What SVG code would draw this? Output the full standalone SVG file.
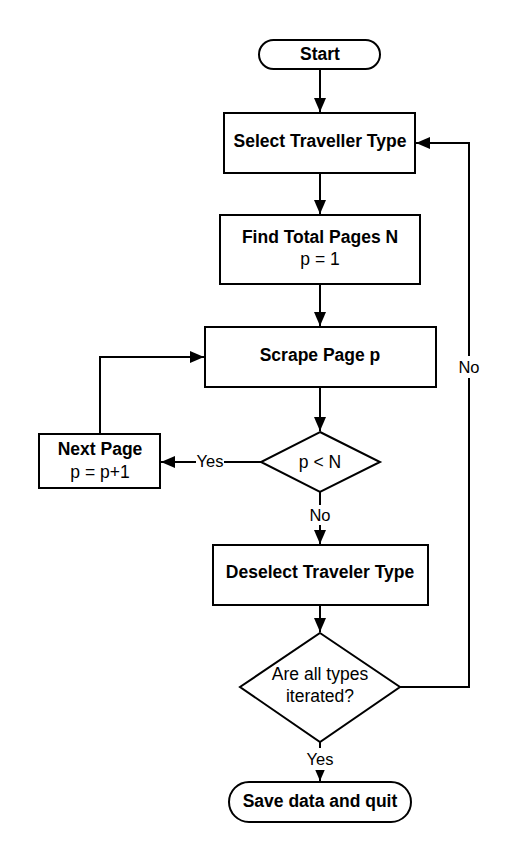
<svg xmlns="http://www.w3.org/2000/svg" width="521" height="862" viewBox="0 0 521 862">
<style>
.shape{fill:#fff;stroke:#000;stroke-width:2}
.edge{fill:none;stroke:#000;stroke-width:2}
.b{font-family:"Liberation Sans",Arial,sans-serif;font-weight:bold;font-size:17.5px;fill:#000;text-anchor:middle}
.n{font-family:"Liberation Sans",Arial,sans-serif;font-size:17.5px;fill:#000;text-anchor:middle}
.lbl{font-family:"Liberation Sans",Arial,sans-serif;font-size:16.5px;fill:#000;text-anchor:middle}
</style>
<defs>
<marker id="arr" markerUnits="userSpaceOnUse" markerWidth="16" markerHeight="14" refX="14" refY="6" orient="auto">
<path d="M0,0 L14,6 L0,12 Z" fill="#000"/>
</marker>
</defs>
<rect width="521" height="862" fill="#fff"/>
<g id="connectors">
<path class="edge" d="M320,70 V112" marker-end="url(#arr)"/>
<path class="edge" d="M320,173 V214" marker-end="url(#arr)"/>
<path class="edge" d="M320,284 V326" marker-end="url(#arr)"/>
<path class="edge" d="M320,387 V431" marker-end="url(#arr)"/>
<path class="edge" d="M261,462 H161" marker-end="url(#arr)"/>
<path class="edge" d="M100,434 V357 H204" marker-end="url(#arr)"/>
<path class="edge" d="M320,492 V544" marker-end="url(#arr)"/>
<path class="edge" d="M320,605 V632" marker-end="url(#arr)"/>
<path class="edge" d="M400,687 H469 V143 H416" marker-end="url(#arr)"/>
<path class="edge" d="M320,742 V781" marker-end="url(#arr)"/>
<rect x="196" y="450" width="28" height="22" fill="#fff"/>
<text class="lbl" x="210" y="467">Yes</text>
<rect x="308" y="505" width="24" height="20" fill="#fff"/>
<text class="lbl" x="320" y="521">No</text>
<rect x="457" y="356" width="24" height="22" fill="#fff"/>
<text class="lbl" x="469" y="373">No</text>
<rect x="304" y="748" width="32" height="22" fill="#fff"/>
<text class="lbl" x="320" y="765">Yes</text>
</g>
<g id="start">
<rect class="shape" x="259" y="40" width="121" height="29" rx="14.5"/>
<text class="b" x="320" y="60">Start</text>
</g>
<g id="select">
<rect class="shape" x="224" y="113" width="191" height="60"/>
<text class="b" x="320" y="147">Select Traveller Type</text>
</g>
<g id="find">
<rect class="shape" x="220" y="215" width="200" height="69"/>
<text class="b" x="320" y="243">Find Total Pages N</text>
<text class="n" x="320" y="265">p = 1</text>
</g>
<g id="scrape">
<rect class="shape" x="205" y="327" width="231" height="60"/>
<text class="b" x="320" y="361">Scrape Page p</text>
</g>
<g id="check-page">
<polygon class="shape" points="320,432 380,462 320,492 261,462"/>
<text class="n" x="320" y="468">p &lt; N</text>
</g>
<g id="next-page">
<rect class="shape" x="39" y="434" width="121" height="54"/>
<text class="b" x="100" y="455">Next Page</text>
<text class="n" x="100" y="478">p = p+1</text>
</g>
<g id="deselect">
<rect class="shape" x="213" y="545" width="215" height="60"/>
<text class="b" x="320" y="578">Deselect Traveler Type</text>
</g>
<g id="check-types">
<polygon class="shape" points="320,633 400,687 320,742 240,687"/>
<text class="n" x="320" y="680">Are all types</text>
<text class="n" x="320" y="702">iterated?</text>
</g>
<g id="end">
<rect class="shape" x="229" y="782" width="182" height="40" rx="20"/>
<text class="b" x="320" y="807">Save data and quit</text>
</g>
</svg>
